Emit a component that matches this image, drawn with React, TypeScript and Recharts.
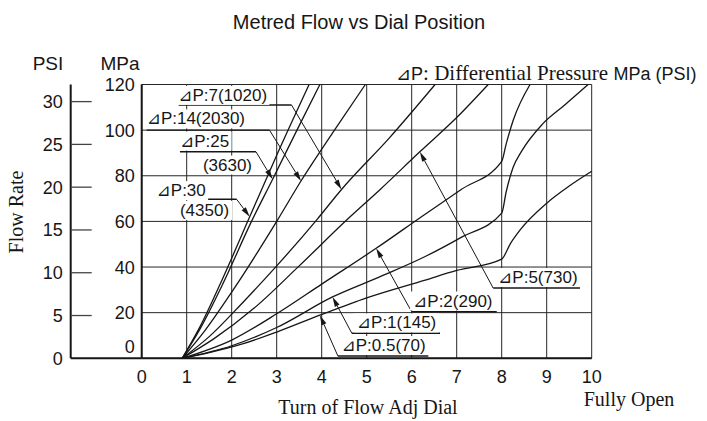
import {
  CartesianGrid,
  ComposedChart,
  Line,
  ReferenceDot,
  ReferenceLine,
  XAxis,
  YAxis,
} from "recharts";

const SANS = '"Liberation Sans", Arial, Helvetica, "DejaVu Sans", sans-serif';
const SERIF = '"Liberation Serif", "Times New Roman", serif';
const INK = "#161616";

// axis ticks
const dialTicks = [0, 1, 2, 3, 4, 5, 6, 7, 8, 9, 10];
const mpaTicks = [0, 10, 20, 30, 40, 50, 60, 70, 80, 90, 100, 110, 120];
const psiTicks = [0, 5, 10, 15, 20, 25, 30];
// the PSI scale runs 0..32 over the same height as 0..120 MPa
const psiSpan = [[0, 0], [10, 32]];

// curves: [dial turn, flow]
const dp30 = [[0.9, 0], [1.3, 14], [1.8, 35], [2.4, 62], [3.0, 89], [3.72, 120]];
const dp25 = [[0.9, 0], [1.3, 13], [1.8, 32.5], [2.44, 60], [2.91, 78.5], [3.45, 100], [3.96, 120]];
const dp14 = [[0.9, 0], [1.4, 12], [2, 29], [3, 60], [3.54, 77.7], [4.25, 99], [4.97, 120]];
const dp7 = [[0.9, 0], [1.5, 9.5], [2.2, 23.5], [3, 40.5], [3.89, 60.7], [4.44, 74], [5.5, 96.5], [6.52, 120]];
const dp5 = [[0.9, 0], [1.6, 8.5], [2.5, 22], [3.5, 40.5], [4.56, 60.7], [5.3, 74], [6.18, 90.5], [7, 105.5], [7.7, 120]];
const dp2 = [[0.9, 0], [2, 8], [3, 19.5], [4, 32.5], [5.21, 48.2], [6.25, 62.5], [7.1, 74], [8, 86.3], [8.1, 94], [8.25, 104], [8.63, 120]];
const dp1 = [[0.9, 0], [2, 5.5], [3, 13.5], [4.24, 26.9], [5.3, 35.8], [6.3, 44.6], [7.1, 53], [8, 63.6], [8.1, 73], [8.25, 83.5], [8.45, 91], [8.9, 102.5], [9.4, 111], [9.92, 120]];
const dp05 = [[0.9, 0], [1.5, 2.5], [2.24, 6.3], [3, 11.5], [3.96, 18.9], [5, 26.5], [6.3, 34.3], [7, 38.5], [8, 43.5], [8.2, 50.5], [8.41, 56.3], [9, 68], [9.5, 75.5], [10, 82]];

const curves = [dp30, dp25, dp14, dp7, dp5, dp2, dp1, dp05];

// annotations, in chart units (dial turn, MPa)
const noteText = ["⊿P:7(1020)", "⊿P:14(2030)", "⊿P:25", "⊿P:30", "⊿P:5(730)", "⊿P:2(290)", "⊿P:1(145)", "⊿P:0.5(70)"];
const noteAt = [[0.81, 112.8], [0.11, 102.5], [0.85, 92.8], [0.33, 71.1], [7.92, 33.0], [6.03, 22.7], [4.78, 13.1], [4.44, 3.2]];
const noteSubText = ["", "", "(3630)", "(4350)", "", "", "", ""];
const noteSubAt = [null, null, [1.36, 82.3], [0.85, 62.4], null, null, null, null];
const noteRule = [[0.82, 3.33, 111.0], [0.11, 2.84, 100], [0.85, 2.54, 90.5], [0.3, 2.11, 69.7], [7.81, 9.74, 30.8], [6.0, 7.89, 20.4], [4.67, 6.63, 10.96], [4.36, 6.37, 1.0]];
const noteTip = [[4.44, 74], [3.54, 77.7], [2.91, 78.5], [2.4, 62], [6.18, 90.5], [5.21, 48.2], [4.24, 26.9], [3.96, 18.9]];
const noteFromEnd = [true, true, true, true, false, false, false, false];

const toPoints = (rows: number[][]) => rows.map(([x, y]) => ({ x, y }));

function textWidth(s: string, size: number) {
  let w = 0;
  for (const ch of s) {
    if (ch === "⊿") w += 0.8;
    else if (ch === "P") w += 0.667;
    else if (ch === ":" || ch === ".") w += 0.278;
    else if (ch === "(" || ch === ")") w += 0.333;
    else w += 0.556;
  }
  return w * size;
}

function NoteLabel({ cx, cy, text }: { cx?: number; cy?: number; text: string }) {
  if (cx == null || cy == null) return null;
  const w = textWidth(text, 17);
  return (
    <g>
      <rect x={cx - 3} y={cy - 15} width={w + 6} height={19} fill="#fff" />
      <text x={cx} y={cy} fontFamily={SANS} fontSize={17} fill={INK}>
        {text}
      </text>
    </g>
  );
}

function Leader(props: any) {
  const { x1, y1, x2, y2 } = props;
  const ang = Math.atan2(y2 - y1, x2 - x1);
  const len = 10;
  const half = 2.6;
  const bx = x2 - len * Math.cos(ang);
  const by = y2 - len * Math.sin(ang);
  const px = -Math.sin(ang) * half;
  const py = Math.cos(ang) * half;
  return (
    <g>
      <line x1={x1} y1={y1} x2={bx} y2={by} stroke={INK} strokeWidth={1} />
      <polygon
        points={`${x2},${y2} ${bx + px},${by + py} ${bx - px},${by - py}`}
        fill={INK}
      />
    </g>
  );
}

function MpaTick({ x, y, payload }: any) {
  const v = payload.value;
  if (v % 20 !== 0) return null;
  return (
    <text
      x={x}
      y={v === 0 ? y - 11.5 : y}
      dy="0.36em"
      textAnchor="end"
      fontFamily={SANS}
      fontSize={18}
      fill={INK}
    >
      {v}
    </text>
  );
}

function PsiTick({ x, y, payload }: any) {
  const v = payload.value;
  return (
    <g>
      <line
        x1={x}
        x2={x + (v === 0 ? 71 : 21)}
        y1={y}
        y2={y}
        stroke={v === 0 ? INK : "#444"}
        strokeWidth={v === 0 ? 2 : 1.3}
      />
      <text x={x - 8} y={y} dy="0.36em" textAnchor="end" fontFamily={SANS} fontSize={18} fill={INK}>
        {v}
      </text>
    </g>
  );
}

export default function App() {
  return (
    <div style={{ position: "absolute", left: 0, top: 0, width: 707, height: 421, background: "#fff" }}>
      <ComposedChart
        width={707}
        height={421}
        margin={{ top: 84.5, right: 115.3, bottom: 32.7, left: 0 }}
      >
        <CartesianGrid yAxisId="mpa" stroke="#262626" strokeWidth={1} />
        <XAxis
          dataKey="x"
          type="number"
          domain={[0, 10]}
          ticks={dialTicks}
          height={30}
          tickLine={false}
          tickSize={0}
          tickMargin={12}
          axisLine={{ stroke: INK, strokeWidth: 2 }}
          tick={{ fontSize: 18, fill: INK, fontFamily: SANS }}
        />
        <YAxis
          yAxisId="mpa"
          type="number"
          domain={[0, 120]}
          ticks={mpaTicks}
          width={71}
          tickLine={false}
          tickSize={0}
          tickMargin={7}
          axisLine={{ stroke: INK, strokeWidth: 2 }}
          tick={<MpaTick />}
        />
        <YAxis
          yAxisId="psi"
          type="number"
          domain={[0, 32]}
          ticks={psiTicks}
          width={70.7}
          tickLine={false}
          tickSize={0}
          tickMargin={0}
          axisLine={{ stroke: INK, strokeWidth: 2 }}
          tick={<PsiTick />}
        />
        <Line
          yAxisId="psi"
          data={toPoints(psiSpan)}
          dataKey="y"
          stroke="none"
          dot={false}
          activeDot={false}
          isAnimationActive={false}
        />

        {noteText.map((t, i) => (
          <ReferenceDot
            key={`lbl-${i}`}
            yAxisId="mpa"
            x={noteAt[i][0]}
            y={noteAt[i][1]}
            r={0}
            shape={(p: any) => <NoteLabel cx={p.cx} cy={p.cy} text={t} />}
          />
        ))}
        {noteSubText.map((t, i) =>
          t && noteSubAt[i] ? (
            <ReferenceDot
              key={`sub-${i}`}
              yAxisId="mpa"
              x={noteSubAt[i]![0]}
              y={noteSubAt[i]![1]}
              r={0}
              shape={(p: any) => <NoteLabel cx={p.cx} cy={p.cy} text={t} />}
            />
          ) : null
        )}

        {curves.map((c, i) => (
          <Line
            key={`c-${i}`}
            yAxisId="mpa"
            data={toPoints(c)}
            dataKey="y"
            type="monotone"
            stroke={INK}
            strokeWidth={1.3}
            dot={false}
            activeDot={false}
            isAnimationActive={false}
          />
        ))}

        {noteRule.map(([a, b, y], i) => (
          <ReferenceLine
            key={`rule-${i}`}
            yAxisId="mpa"
            segment={[{ x: a, y }, { x: b, y }]}
            stroke={INK}
            strokeWidth={1.4}
          />
        ))}
        {noteRule.map(([a, b, y], i) => (
          <ReferenceLine
            key={`lead-${i}`}
            yAxisId="mpa"
            segment={[
              { x: noteFromEnd[i] ? b : a, y },
              { x: noteTip[i][0], y: noteTip[i][1] },
            ]}
            shape={(p: any) => <Leader {...p} />}
          />
        ))}

        <text x={359} y={29} textAnchor="middle" fontFamily={SANS} fontSize={20} fill={INK}>
          Metred Flow vs Dial Position
        </text>
        <text x={48} y={70} textAnchor="middle" fontFamily={SANS} fontSize={19} fill={INK}>
          PSI
        </text>
        <text x={120} y={70} textAnchor="middle" fontFamily={SANS} fontSize={19} fill={INK}>
          MPa
        </text>
        <text
          x={0}
          y={0}
          transform="translate(23 212) rotate(-90)"
          textAnchor="middle"
          fontFamily={SERIF}
          fontSize={20}
          fill={INK}
        >
          Flow Rate
        </text>
        <text x={396} y={79.5} fontFamily={SANS} fontSize={18} fill={INK}>
          ⊿P
          <tspan fontFamily={SERIF} fontSize={21}>
            : Differential Pressure{" "}
          </tspan>
          <tspan>MPa (PSI)</tspan>
        </text>
        <text x={368} y={414} textAnchor="middle" fontFamily={SERIF} fontSize={20} fill={INK}>
          Turn of Flow Adj Dial
        </text>
        <text x={629} y={406} textAnchor="middle" fontFamily={SERIF} fontSize={20} fill={INK}>
          Fully Open
        </text>
      </ComposedChart>
    </div>
  );
}
